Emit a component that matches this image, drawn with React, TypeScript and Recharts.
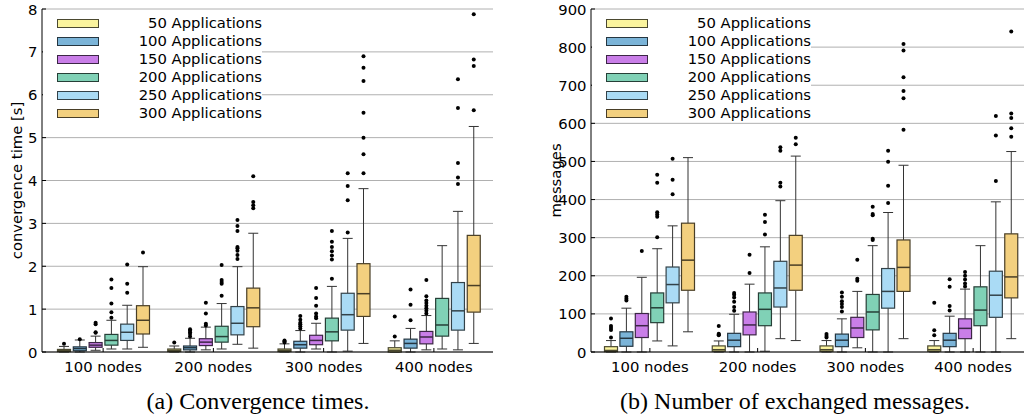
import React from 'react';
import { BarChart, Bar, XAxis, YAxis, CartesianGrid, Legend } from 'recharts';

const categories = ['100 nodes', '200 nodes', '300 nodes', '400 nodes'];
const seriesNames = ['50 Applications', '100 Applications', '150 Applications', '200 Applications', '250 Applications', '300 Applications'];
const fills = ['#fbf49e', '#7bb4d8', '#c97ee8', '#80d1b6', '#aadbf5', '#f3d07f'];
const edges = ['#4b4930', '#253641', '#3c2646', '#263f37', '#334249', '#493e26'];
const timeTicks = [0, 1, 2, 3, 4, 5, 6, 7, 8];
const msgTicks = [0, 100, 200, 300, 400, 500, 600, 700, 800, 900];

// each box: [lower whisker, q1, median, q3, upper whisker], one per category
const time50 = [[0, 0.01, 0.03, 0.06, 0.13], [0, 0.01, 0.04, 0.07, 0.14], [0, 0.01, 0.04, 0.07, 0.19], [0, 0.0, 0.04, 0.1, 0.26]];
const time100 = [[0, 0.03, 0.08, 0.12, 0.28], [0, 0.05, 0.1, 0.14, 0.32], [0, 0.09, 0.17, 0.25, 0.5], [0, 0.09, 0.2, 0.3, 0.55]];
const time150 = [[0.04, 0.11, 0.16, 0.22, 0.37], [0.05, 0.15, 0.23, 0.31, 0.58], [0.07, 0.17, 0.27, 0.39, 0.67], [0.05, 0.19, 0.35, 0.48, 0.85]];
const time200 = [[0.07, 0.16, 0.27, 0.41, 0.74], [0.07, 0.23, 0.36, 0.6, 1.13], [0, 0.26, 0.47, 0.79, 1.53], [0.07, 0.37, 0.63, 1.25, 2.48]];
const time250 = [[0.07, 0.27, 0.46, 0.65, 1.09], [0.18, 0.4, 0.67, 1.06, 1.99], [0.02, 0.51, 0.87, 1.37, 2.65], [0.05, 0.51, 0.96, 1.62, 3.28]];
const time300 = [[0.11, 0.42, 0.74, 1.08, 1.99], [0.09, 0.59, 1.03, 1.49, 2.77], [0.2, 0.83, 1.36, 2.06, 3.81], [0.2, 0.93, 1.55, 2.72, 5.26]];

const time50Out = [[0.19], [0.22], [0.22, 0.25, 0.27], [0.36, 0.83]];
const time100Out = [[0.3], [0.36, 0.42, 0.46, 0.5, 0.53], [0.55, 0.6, 0.65, 0.68, 0.75, 0.84], [0.74, 1.1, 1.46]];
const time150Out = [[0.45, 0.46, 0.65, 0.68], [0.62, 0.66, 0.9, 1.15], [0.79, 0.83, 0.9, 1.08, 1.26, 1.49], [0.9, 0.96, 1.02, 1.08, 1.14, 1.2, 1.3, 1.68]];
const time200Out = [[0.8, 0.93, 1.13, 1.49, 1.69], [1.31, 1.59, 1.63, 1.68, 2.03], [1.71, 2.16, 2.25, 2.35, 2.45, 2.57, 2.82], []];
const time250Out = [[1.38, 1.59, 2.04], [2.17, 2.26, 2.36, 2.42, 2.45, 2.82, 2.94, 3.08], [2.79, 3.54, 3.87, 4.17], [3.92, 4.07, 4.41, 5.69, 6.36]];
const time300Out = [[2.32], [3.35, 3.42, 3.5, 4.1], [4.17, 4.61, 5.0, 5.58, 6.32, 6.63, 6.9], [5.64, 6.67, 6.82, 7.88]];

const msg50 = [[0, 1, 4, 14, 30], [0, 2, 6, 16, 29], [0, 2, 6, 16, 30], [0, 2, 6, 16, 30]];
const msg100 = [[0, 15, 36, 53, 115], [0, 14, 31, 49, 99], [0, 14, 31, 47, 87], [0, 14, 31, 49, 94]];
const msg150 = [[0, 38, 69, 101, 196], [0, 45, 71, 105, 178], [11, 38, 63, 91, 159], [0, 35, 62, 87, 165]];
const msg200 = [[29, 77, 116, 155, 271], [2, 69, 112, 155, 276], [0, 58, 105, 151, 279], [0, 69, 110, 171, 279]];
const msg250 = [[16, 129, 177, 223, 331], [35, 118, 168, 238, 397], [0, 115, 159, 219, 366], [0, 91, 149, 212, 394]];
const msg300 = [[53, 162, 241, 338, 510], [30, 162, 228, 306, 514], [35, 159, 222, 294, 490], [35, 142, 197, 310, 526]];

const msg50Out = [[38, 58, 63, 68, 88], [44, 46, 48, 68], [38, 42, 47], [44, 57, 129]];
const msg100Out = [[135, 140, 145], [108, 118, 132, 143, 150, 155], [106, 118, 126, 133, 145, 156], [109, 121, 171, 191]];
const msg150Out = [[265], [207, 255], [187, 192, 242], [172, 180, 190, 200, 210]];
const msg200Out = [[301, 355, 361, 367, 444, 465], [308, 341, 360], [294, 297, 359, 362, 381], []];
const msg250Out = [[414, 452, 507], [434, 444, 528, 537], [391, 436, 499, 528], [449, 568, 619]];
const msg300Out = [[638], [545, 562], [583, 666, 685, 721, 791, 808], [565, 587, 614, 626, 841]];

const FONT = '"DejaVu Sans", sans-serif';
const FS = 14.8;

function buildRows(boxes: number[][][], outs: number[][][]) {
  return categories.map((name, c) => {
    const row: any = { name };
    boxes.forEach((b, s) => {
      row['s' + s] = { box: b[c], out: outs[s][c] };
    });
    return row;
  });
}

const timeRows = buildRows([time50, time100, time150, time200, time250, time300], [time50Out, time100Out, time150Out, time200Out, time250Out, time300Out]);
const msgRows = buildRows([msg50, msg100, msg150, msg200, msg250, msg300], [msg50Out, msg100Out, msg150Out, msg200Out, msg250Out, msg300Out]);

const topValue = (st: any) => Math.max(st.box[4], ...st.out);

const makeShape = (s: number) => (props: any) => {
  const { x, y, width, height, payload } = props;
  const st = payload && payload['s' + s];
  if (!st || !height) return <g />;
  const top = topValue(st);
  const py = (v: number) => y + height * (1 - v / top);
  const cx = x + width / 2;
  const [lo, q1, med, q3, hi] = st.box;
  const cap = 5;
  const wc = '#333';
  return (
    <g>
      <line x1={cx} x2={cx} y1={py(lo)} y2={py(q1)} stroke={wc} strokeWidth={1} />
      <line x1={cx} x2={cx} y1={py(q3)} y2={py(hi)} stroke={wc} strokeWidth={1} />
      <line x1={cx - cap} x2={cx + cap} y1={py(lo)} y2={py(lo)} stroke={wc} strokeWidth={1} />
      <line x1={cx - cap} x2={cx + cap} y1={py(hi)} y2={py(hi)} stroke={wc} strokeWidth={1} />
      <rect x={x + 0.5} y={py(q3)} width={width - 1} height={Math.max(py(q1) - py(q3), 0.5)} fill={fills[s]} stroke={edges[s]} strokeWidth={1.2} />
      <line x1={x + 0.5} x2={x + width - 0.5} y1={py(med)} y2={py(med)} stroke={edges[s]} strokeWidth={1.5} />
      {st.out.map((o: number, i: number) => (
        <circle key={i} cx={cx} cy={py(o)} r={2} fill="#000" />
      ))}
    </g>
  );
};

const LeftTick = (props: any) => {
  const { x, y, payload } = props;
  return (
    <g>
      <line x1={x} x2={x + 4} y1={y} y2={y} stroke="#000" />
      <text x={x - 4.5} y={y} textAnchor="end" dominantBaseline="central" fontSize={FS} fontFamily={FONT} fill="#000">
        {payload.value}
      </text>
    </g>
  );
};
const RightTick = (props: any) => {
  const { x, y } = props;
  return <line x1={x - 4} x2={x} y1={y} y2={y} stroke="#000" />;
};
const BottomTick = (props: any) => {
  const { x, y, payload } = props;
  return (
    <g>
      <line x1={x} x2={x} y1={y - 4} y2={y} stroke="#000" />
      <text x={x} y={y + 19.5} textAnchor="middle" fontSize={FS} fontFamily={FONT} fill="#000">
        {payload.value}
      </text>
    </g>
  );
};
const TopTick = (props: any) => {
  const { x, y } = props;
  return <line x1={x} x2={x} y1={y} y2={y + 4} stroke="#000" />;
};

const makeYLabel = (text: string, px: number) => (props: any) => {
  const vb = props.viewBox || { x: 0, y: 9, width: 42, height: 343 };
  const x = vb.x + px;
  const y = vb.y + vb.height / 2;
  return (
    <text x={x} y={y} transform={`rotate(-90, ${x}, ${y})`} textAnchor="middle" dominantBaseline="central" fontSize={FS} fontFamily={FONT} fill="#000">
      {text}
    </text>
  );
};

const renderLegend = (props: any) => {
  const payload = props.payload || [];
  const names = seriesNames.filter((n) => payload.some((e: any) => e.value === n));
  return (
    <div style={{ background: '#fff', width: 219, height: 110, position: 'relative', fontFamily: FONT, fontSize: FS, color: '#000' }}>
      {names.map((n: string, i: number) => {
        const idx = seriesNames.indexOf(n);
        const cy = 11 + 18 * i;
        return (
          <React.Fragment key={n}>
            <div style={{ position: 'absolute', left: 14, top: cy - 4.5, width: 40, height: 7, background: fills[idx], border: `1px solid ${edges[idx]}` }} />
            <div style={{ position: 'absolute', right: 0, top: cy - 9, height: 18, lineHeight: '18px', whiteSpace: 'nowrap', textAlign: 'right' }}>{n}</div>
          </React.Fragment>
        );
      })}
    </div>
  );
};

function Panel(props: { rows: any[]; ticks: number[]; max: number; yWidth: number; width: number; rightMargin: number; padL: number; padR: number; gap: number; label: string; labelX: number }) {
  const { rows, ticks, max, yWidth, width, rightMargin, padL, padR, gap, label, labelX } = props;
  return (
    <BarChart width={width} height={380} data={rows} margin={{ top: 9, right: rightMargin, left: 0, bottom: 0 }} barSize={14} barGap={gap}>
      <CartesianGrid vertical={false} stroke="#b0b0b0" strokeWidth={1} />
      <XAxis dataKey="name" height={28} interval={0} tickSize={0} tickMargin={0} tickLine={false} axisLine={{ stroke: '#000' }} padding={{ left: padL, right: padR }} tick={<BottomTick />} />
      <XAxis dataKey="name" xAxisId="top" orientation="top" height={0} interval={0} tickSize={0} tickMargin={0} tickLine={false} axisLine={{ stroke: '#000' }} padding={{ left: padL, right: padR }} tick={<TopTick />} />
      <YAxis type="number" domain={[0, max]} ticks={ticks} width={yWidth} interval={0} tickSize={0} tickMargin={0} tickLine={false} axisLine={{ stroke: '#000' }} tick={<LeftTick />} label={{ content: makeYLabel(label, labelX) }} />
      <YAxis type="number" yAxisId="right" orientation="right" domain={[0, max]} ticks={ticks} width={0} interval={0} tickSize={0} tickMargin={0} tickLine={false} axisLine={{ stroke: '#000' }} tick={<RightTick />} />
      <Legend layout="horizontal" align="center" verticalAlign="middle" wrapperStyle={{ top: 12, left: yWidth + 1, width: 219, height: 110 }} content={renderLegend} />
      {seriesNames.map((n, s) => (
        <Bar key={n} name={n} dataKey={(row: any) => topValue(row['s' + s])} fill={fills[s]} shape={makeShape(s)} isAnimationActive={false} />
      ))}
    </BarChart>
  );
}

export default function App() {
  return (
    <div style={{ position: 'absolute', left: 0, top: 0, width: 1024, height: 419, overflow: 'hidden', background: '#fff' }}>
      <div style={{ position: 'absolute', left: 0, top: 0 }}>
        <Panel rows={timeRows} ticks={timeTicks} max={8} yWidth={42} width={500} rightMargin={7} padL={6} padR={4} gap={1.8} label="convergence time [s]" labelX={16} />
      </div>
      <div style={{ position: 'absolute', left: 540, top: 0 }}>
        <Panel rows={msgRows} ticks={msgTicks} max={900} yWidth={51} width={487} rightMargin={0} padL={5} padR={0} gap={1.4} label="messages" labelX={15} />
      </div>
      <div style={{ position: 'absolute', left: 58, width: 400, top: 388, textAlign: 'center', fontFamily: '"Liberation Serif", serif', fontSize: 24, lineHeight: '26px', color: '#000', whiteSpace: 'nowrap' }}>
        (a) Convergence times.
      </div>
      <div style={{ position: 'absolute', left: 545, width: 500, top: 388, textAlign: 'center', fontFamily: '"Liberation Serif", serif', fontSize: 24, lineHeight: '26px', color: '#000', whiteSpace: 'nowrap' }}>
        (b) Number of exchanged messages.
      </div>
    </div>
  );
}
